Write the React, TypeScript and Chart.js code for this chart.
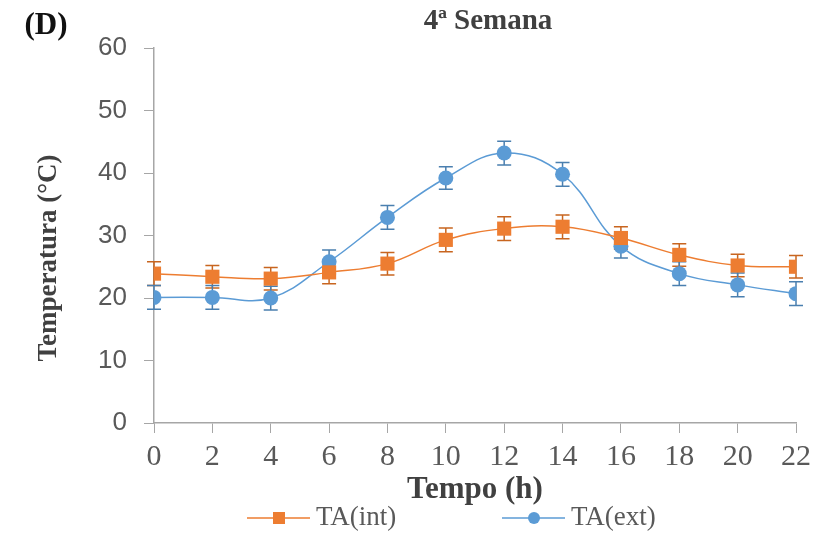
import React, { useEffect, useRef } from "react";
import { Chart, registerables } from "chart.js";

Chart.register(...registerables);

// ---- data ----
const hours = [0, 2, 4, 6, 8, 10, 12, 14, 16, 18, 20, 22];
const taInt = [23.9, 23.4, 23.1, 24.1, 25.5, 29.3, 31.1, 31.4, 29.6, 26.9, 25.2, 25.0];
const taIntErr = [1.9, 1.8, 1.8, 1.8, 1.8, 1.9, 1.9, 1.9, 1.8, 1.8, 1.8, 1.8];
const taExt = [20.1, 20.1, 20.0, 25.8, 32.9, 39.2, 43.2, 39.8, 28.3, 23.9, 22.1, 20.7];
const taExtErr = [1.9, 1.9, 1.9, 1.9, 1.9, 1.8, 1.9, 1.9, 1.9, 1.9, 1.9, 1.9];
const seriesNames = ["TA(int)", "TA(ext)"];
const yTicks = [0, 10, 20, 30, 40, 50, 60];
const panelLabel = "(D)";
const titleText = "4ª Semana";
const xTitle = "Tempo (h)";
const yTitle = "Temperatura (°C)";

const ORANGE = "#ED7D31";
const BLUE = "#5B9BD5";
const ORANGE_ERR = "#C8651F";
const BLUE_ERR = "#4A7FAF";
const AXIS = "#A6A6A6";
const SERIF = "'Liberation Serif', 'DejaVu Serif', serif";
const SANS = "'Liberation Sans', Arial, sans-serif";

export default function App() {
  const ref = useRef<HTMLCanvasElement | null>(null);

  useEffect(() => {
    document.body.style.margin = "0";
    const canvas = ref.current;
    if (!canvas) return;

    const errorBars = {
      id: "errorBars",
      beforeDatasetsDraw(chart: any) {
        const ctx = chart.ctx;
        const xs = chart.scales.x;
        const ys = chart.scales.y;
        chart.data.datasets.forEach((ds: any) => {
          const errs: number[] = ds.errors || [];
          ctx.save();
          ctx.strokeStyle = ds.errorColor || ds.borderColor;
          ctx.lineWidth = 1.5;
          ds.data.forEach((p: any, j: number) => {
            const e = errs[j] || 0;
            const px = xs.getPixelForValue(p.x);
            const top = ys.getPixelForValue(p.y + e);
            const bot = ys.getPixelForValue(p.y - e);
            ctx.beginPath();
            ctx.moveTo(px, top);
            ctx.lineTo(px, bot);
            ctx.moveTo(px - 7, top);
            ctx.lineTo(px + 7, top);
            ctx.moveTo(px - 7, bot);
            ctx.lineTo(px + 7, bot);
            ctx.stroke();
          });
          ctx.restore();
        });
      },
    };

    const decor = {
      id: "decor",
      afterDraw(chart: any) {
        const ctx = chart.ctx;
        const area = chart.chartArea;
        ctx.save();
        ctx.textBaseline = "middle";
        ctx.textAlign = "center";
        // panel label
        ctx.fillStyle = "#111111";
        ctx.font = `bold 31px ${SERIF}`;
        ctx.fillText(panelLabel, 46, 26);
        // title
        ctx.fillStyle = "#404040";
        ctx.font = `bold 29px ${SERIF}`;
        ctx.fillText(titleText, 488, 22);
        // x title
        ctx.font = `bold 31px ${SERIF}`;
        ctx.fillText(xTitle, (area.left + area.right) / 2, 490);
        // y title
        ctx.save();
        ctx.translate(49, 258);
        ctx.rotate(-Math.PI / 2);
        ctx.font = `bold 27px ${SERIF}`;
        ctx.fillText(yTitle, 0, 0);
        ctx.restore();
        // legend
        const items = [
          { x: 247, ds: chart.data.datasets[0] },
          { x: 502, ds: chart.data.datasets[1] },
        ];
        const ly = 518;
        items.forEach((it) => {
          const ds = it.ds;
          ctx.strokeStyle = ds.borderColor;
          ctx.lineWidth = 1.5;
          ctx.beginPath();
          ctx.moveTo(it.x, ly);
          ctx.lineTo(it.x + 63, ly);
          ctx.stroke();
          ctx.fillStyle = ds.backgroundColor;
          const cx = it.x + 32;
          if (ds.pointStyle === "rect") {
            ctx.fillRect(cx - 6, ly - 6, 12, 12);
          } else {
            ctx.beginPath();
            ctx.arc(cx, ly, 6, 0, Math.PI * 2);
            ctx.fill();
          }
          ctx.fillStyle = "#595959";
          ctx.font = `27px ${SERIF}`;
          ctx.textAlign = "left";
          ctx.fillText(ds.label, it.x + 69, ly);
        });
        ctx.restore();
      },
    };

    const chart = new Chart(canvas, {
      type: "line",
      data: {
        datasets: [
          {
            label: seriesNames[0],
            data: hours.map((h, i) => ({ x: h, y: taInt[i] })),
            errors: taIntErr,
            errorColor: ORANGE_ERR,
            borderColor: ORANGE,
            backgroundColor: ORANGE,
            borderWidth: 1.5,
            pointStyle: "rect",
            pointRadius: 10,
            pointBorderWidth: 0,
            tension: 0.4,
          } as any,
          {
            label: seriesNames[1],
            data: hours.map((h, i) => ({ x: h, y: taExt[i] })),
            errors: taExtErr,
            errorColor: BLUE_ERR,
            borderColor: BLUE,
            backgroundColor: BLUE,
            borderWidth: 1.5,
            pointStyle: "circle",
            pointRadius: 7.5,
            pointBorderWidth: 0,
            tension: 0.4,
          } as any,
        ],
      },
      options: {
        responsive: false,
        animation: false,
        events: [],
        layout: { padding: { top: 48, right: 29, left: 0, bottom: 0 } },
        plugins: {
          legend: { display: false },
          title: { display: false },
          tooltip: { enabled: false },
        },
        scales: {
          x: {
            type: "linear",
            min: 0,
            max: 22,
            afterBuildTicks(scale: any) {
              scale.ticks = hours.map((h) => ({ value: h }));
            },
            afterFit(scale: any) {
              scale.height = 116;
            },
            grid: {
              drawOnChartArea: false,
              drawTicks: true,
              tickLength: 10,
              color: AXIS,
            },
            border: { color: AXIS, width: 1.5 },
            ticks: {
              color: "#595959",
              font: { family: SERIF, size: 30 },
              padding: 6,
              maxRotation: 0,
              autoSkip: false,
            },
          },
          y: {
            type: "linear",
            min: 0,
            max: 60,
            afterBuildTicks(scale: any) {
              scale.ticks = yTicks.map((v) => ({ value: v }));
            },
            afterFit(scale: any) {
              scale.width = 154;
            },
            grid: {
              drawOnChartArea: false,
              drawTicks: true,
              tickLength: 10,
              color: AXIS,
            },
            border: { color: AXIS, width: 1.5 },
            ticks: {
              color: "#595959",
              font: { family: SANS, size: 26 },
              padding: 17,
            },
          },
        },
      },
      plugins: [errorBars, decor],
    } as any);

    return () => chart.destroy();
  }, []);

  return (
    <div style={{ width: 825, height: 539 }}>
      <canvas ref={ref} width={825} height={539} style={{ display: "block" }} />
    </div>
  );
}
